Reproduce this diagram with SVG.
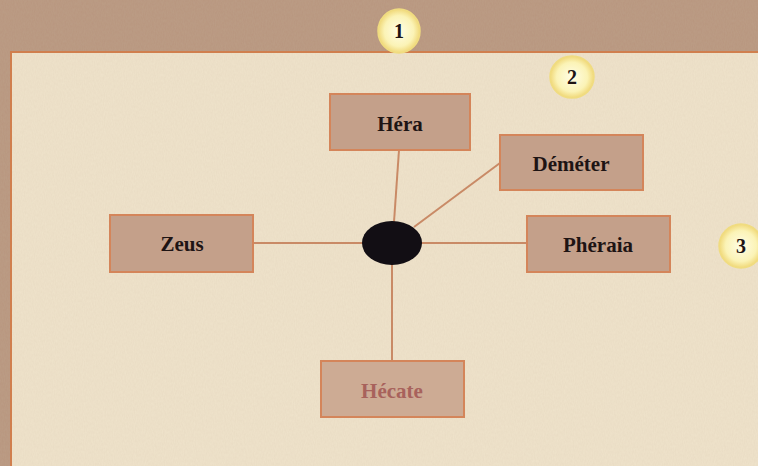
<svg xmlns="http://www.w3.org/2000/svg" width="758" height="466" viewBox="0 0 758 466">
<defs>
<filter id="grain" x="0" y="0" width="100%" height="100%">
<feTurbulence type="fractalNoise" baseFrequency="0.9 0.35" numOctaves="2" seed="3" result="n"/>
<feColorMatrix type="matrix" values="0 0 0 0 0.55  0 0 0 0 0.42  0 0 0 0 0.3  0 0 0 0.45 0" in="n"/>
<feComposite operator="in" in2="SourceGraphic"/>
</filter>
<radialGradient id="badge" cx="50%" cy="50%" r="50%">
<stop offset="0" stop-color="#fffde6"/>
<stop offset="0.7" stop-color="#fbf3b6"/>
<stop offset="1" stop-color="#f0d878"/>
</radialGradient>
<style>
.box{fill:#c4a08a;stroke:#d4855a;stroke-width:2}
.lbl{font-family:"Liberation Serif","Times New Roman",serif;font-weight:bold;font-size:21px;fill:#1e1414;text-anchor:middle}
.num{font-family:"Liberation Serif","Times New Roman",serif;font-weight:bold;font-size:20px;fill:#1e1414;text-anchor:middle}
.conn{stroke:#c98a66;stroke-width:2;fill:none}
</style>
</defs>
<!-- wood frame -->
<rect x="0" y="0" width="758" height="466" fill="#b8967f"/>
<rect x="0" y="0" width="758" height="466" fill="#fff" filter="url(#grain)" opacity="0.7"/>
<!-- paper -->
<rect x="11" y="52" width="747" height="414" fill="#efe3cb"/>
<rect x="11" y="52" width="747" height="414" fill="#fff" filter="url(#grain)" opacity="0.3"/>
<path d="M11 466 V52 H758" stroke="#d07f4e" stroke-width="2" fill="none"/>
<!-- badges -->
<g id="badge1"><ellipse cx="399" cy="31" rx="21" ry="22" fill="url(#badge)" stroke="#f0dc80" stroke-width="1.5"/><text class="num" x="399" y="38">1</text></g>
<g id="badge2"><ellipse cx="572" cy="77" rx="22" ry="21" fill="url(#badge)" stroke="#f0dc80" stroke-width="1.5"/><text class="num" x="572" y="84">2</text></g>
<g id="badge3"><ellipse cx="741" cy="246" rx="22" ry="22" fill="url(#badge)" stroke="#f0dc80" stroke-width="1.5"/><text class="num" x="741" y="253">3</text></g>
<!-- connectors -->
<g id="connectors">
<line class="conn" x1="253" y1="243" x2="364" y2="243"/>
<line class="conn" x1="420" y1="243" x2="527" y2="243"/>
<line class="conn" x1="399" y1="150" x2="394" y2="222"/>
<line class="conn" x1="500" y1="163" x2="414" y2="227"/>
<line class="conn" x1="392" y1="264" x2="392" y2="361"/>
</g>
<g id="hub"><ellipse cx="392" cy="243" rx="30" ry="22" fill="#120e14"/></g>
<g id="hera"><rect class="box" x="330" y="94" width="140" height="56"/><text class="lbl" x="400" y="131">Héra</text></g>
<g id="demeter"><rect class="box" x="500" y="135" width="143" height="55"/><text class="lbl" x="571" y="171">Déméter</text></g>
<g id="zeus"><rect class="box" x="110" y="215" width="143" height="57"/><text class="lbl" x="182" y="251">Zeus</text></g>
<g id="pheraia"><rect class="box" x="527" y="216" width="143" height="56"/><text class="lbl" x="598" y="252">Phéraia</text></g>
<g id="hecate"><rect class="box" x="321" y="361" width="143" height="56" style="fill:#cdab94"/><text class="lbl" x="392" y="398" style="fill:#a8625c">Hécate</text></g>
</svg>
